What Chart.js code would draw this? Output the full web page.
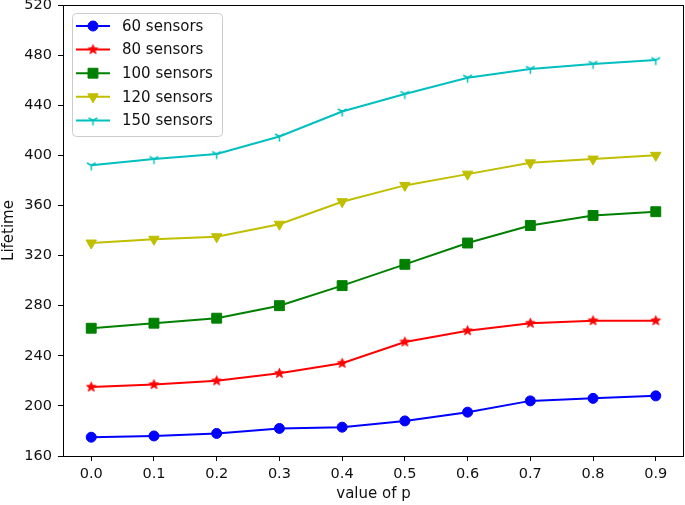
<!DOCTYPE html>
<html>
<head>
<meta charset="utf-8">
<script src="https://cdn.jsdelivr.net/npm/chart.js@4.4.1/dist/chart.umd.min.js"></script>
<style>
  html, body { margin: 0; padding: 0; background: #fff; }
  #wrap { width: 685px; height: 505px; }
</style>
</head>
<body>
<div id="wrap"><canvas id="grafica" width="685" height="505"></canvas></div>
<script>
// datos
const valoresP = [0.0, 0.1, 0.2, 0.3, 0.4, 0.5, 0.6, 0.7, 0.8, 0.9]
const sensores60 = [175, 176, 178, 182, 183, 188, 195, 204, 206, 208]
const sensores80 = [215, 217, 220, 226, 234, 251, 260, 266, 268, 268]
const sensores100 = [262, 266, 270, 280, 296, 313, 330, 344, 352, 355]
const sensores120 = [330, 333, 335, 345, 363, 376, 385, 394, 397, 400]
const sensores150 = [392, 397, 401, 415, 435, 449, 462, 469, 473, 476]
const etiquetas = ["60 sensors", "80 sensors", "100 sensors", "120 sensors", "150 sensors"]
const ticksY = [160, 200, 240, 280, 320, 360, 400, 440, 480, 520]

// marcadores que chart.js no trae
function marcadorEstrella(color, r) {
    const c = document.createElement('canvas')
    const s = Math.ceil(r * 2 + 3)
    c.width = s; c.height = s
    const g = c.getContext('2d')
    const cx = s / 2, cy = s / 2, ri = r * 0.42
    g.beginPath()
    for (let i = 0; i < 10; i++) {
        const ang = -Math.PI / 2 + i * Math.PI / 5
        const rr = i % 2 ? ri : r
        g.lineTo(cx + Math.cos(ang) * rr, cy + Math.sin(ang) * rr)
    }
    g.closePath()
    g.fillStyle = color; g.strokeStyle = color; g.lineWidth = 1
    g.fill(); g.stroke()
    return c
}

function marcadorTri(color, r) {
    const c = document.createElement('canvas')
    const s = Math.ceil(r * 2 + 3)
    c.width = s; c.height = s
    const g = c.getContext('2d')
    const cx = s / 2, cy = s / 2
    g.strokeStyle = color; g.lineWidth = 1.5
    g.beginPath()
    g.moveTo(cx, cy); g.lineTo(cx, cy + r)
    g.moveTo(cx, cy); g.lineTo(cx - r * 0.866, cy - r * 0.5)
    g.moveTo(cx, cy); g.lineTo(cx + r * 0.866, cy - r * 0.5)
    g.stroke()
    return c
}

const puntos = serie => serie.map((v, i) => ({ x: valoresP[i], y: v }))

const series = [
    { label: etiquetas[0], data: puntos(sensores60), borderColor: '#0000ff', pointStyle: 'circle', pointRadius: 5 },
    { label: etiquetas[1], data: puntos(sensores80), borderColor: '#ff0000', pointStyle: marcadorEstrella('#ff0000', 5), pointRadius: 5 },
    { label: etiquetas[2], data: puntos(sensores100), borderColor: '#008000', pointStyle: 'rect', pointRadius: 7 },
    { label: etiquetas[3], data: puntos(sensores120), borderColor: '#bfbf00', pointStyle: 'triangle', pointRotation: 180, pointRadius: 6 },
    { label: etiquetas[4], data: puntos(sensores150), borderColor: '#00bfbf', pointStyle: marcadorTri('#00bfbf', 5), pointRadius: 5 }
].map(d => Object.assign({
    borderWidth: 2,
    pointBorderWidth: 1,
    backgroundColor: d.borderColor,
    pointBackgroundColor: d.borderColor,
    pointBorderColor: d.borderColor,
    tension: 0,
    fill: false
}, d))

// marco completo y leyenda dentro del area
const marcoYLeyenda = {
    id: 'marcoYLeyenda',
    afterDraw(chart) {
        const { ctx, chartArea: a } = chart
        ctx.save()
        ctx.strokeStyle = '#000'
        ctx.lineWidth = 1
        ctx.strokeRect(Math.round(a.left) + 0.5, Math.round(a.top) + 0.5, Math.round(a.right - a.left) - 1, Math.round(a.bottom - a.top))

        // leyenda
        const x0 = 72, y0 = 13, w = 150, h = 123
        ctx.beginPath()
        ctx.roundRect(x0 + 0.5, y0 + 0.5, w, h, 4)
        ctx.fillStyle = 'rgba(255,255,255,0.8)'
        ctx.fill()
        ctx.strokeStyle = '#cccccc'
        ctx.stroke()

        ctx.font = "15px 'DejaVu Sans'"
        ctx.textBaseline = 'middle'
        ctx.textAlign = 'left'
        chart.data.datasets.forEach((d, i) => {
            const y = 26 + i * 23.6
            ctx.strokeStyle = d.borderColor
            ctx.lineWidth = 2
            ctx.beginPath()
            ctx.moveTo(76, y); ctx.lineTo(110, y)
            ctx.stroke()
            ctx.fillStyle = d.borderColor
            ctx.lineWidth = 1
            Chart.helpers.drawPoint(ctx, { pointStyle: d.pointStyle, radius: d.pointRadius, rotation: d.pointRotation || 0, borderWidth: 1 }, 93, y)
            ctx.fillStyle = '#111'
            ctx.fillText(d.label, 122, y + 1)
        })
        ctx.restore()
    }
}

Chart.defaults.font.family = "'DejaVu Sans', sans-serif"
Chart.defaults.font.size = 14.5
Chart.defaults.color = '#111'

const ctx = document.getElementById('grafica').getContext('2d')

new Chart(ctx, {
    type: 'line',
    data: { datasets: series },
    plugins: [marcoYLeyenda],
    options: {
        responsive: false,
        animation: false,
        layout: { autoPadding: false, padding: { top: 5, right: 1, left: 0, bottom: 0 } },
        plugins: {
            legend: { display: false },
            tooltip: { enabled: false }
        },
        scales: {
            x: {
                type: 'linear',
                min: -0.045,
                max: 0.945,
                afterFit: s => { s.height = 49; s.paddingLeft = 0; s.paddingRight = 0 },
                afterBuildTicks: s => { s.ticks = valoresP.map(v => ({ value: v })) },
                ticks: { callback: v => v.toFixed(1), padding: 5, maxRotation: 0, autoSkip: false },
                grid: { drawOnChartArea: false, drawTicks: true, tickLength: 5, color: '#000' },
                border: { display: false },
                title: { display: true, text: 'value of p', font: { size: 15 }, padding: { top: 0, bottom: 2 } }
            },
            y: {
                min: 160,
                max: 520,
                afterFit: s => { s.width = 63; s.paddingTop = 0; s.paddingBottom = 0 },
                afterBuildTicks: s => { s.ticks = ticksY.map(v => ({ value: v })) },
                ticks: { padding: 6, autoSkip: false },
                grid: { drawOnChartArea: false, drawTicks: true, tickLength: 5, color: '#000' },
                border: { display: false },
                title: { display: true, text: 'Lifetime', font: { size: 15 }, padding: { top: 0, bottom: 0 } }
            }
        }
    }
})
</script>
</body>
</html>
